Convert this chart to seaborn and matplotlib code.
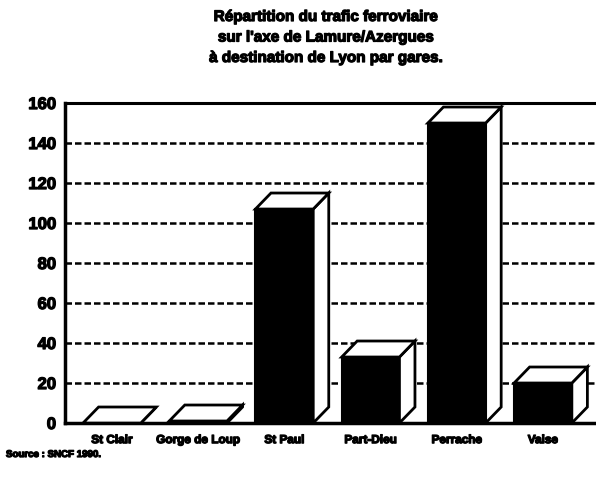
import matplotlib
matplotlib.use("Agg")
import matplotlib.pyplot as plt
from matplotlib.patches import Polygon
import matplotlib.patheffects as pe
import seaborn as sns
import pandas as pd

# Rail traffic towards Lyon, by station
stations = ["St Clair", "Gorge de Loup", "St Paul", "Part-Dieu", "Perrache", "Vaise"]
traffic = [0, 1, 107, 33, 150, 20]
y_ticks = [0, 20, 40, 60, 80, 100, 120, 140, 160]

title_lines = ["Répartition du trafic ferroviaire",
               "sur l'axe de Lamure/Azergues",
               "à destination de Lyon par gares."]
source_text = "Source : SNCF 1990."

df = pd.DataFrame({"gare": stations, "trafic": traffic})

sns.set_style("white")
plt.rcParams["font.family"] = ["Liberation Sans", "DejaVu Sans"]
plt.rcParams["text.color"] = "black"

# thicken glyphs for a heavy, photocopied look
heavy = [pe.withStroke(linewidth=0.9, foreground="black")]

fig = plt.figure(figsize=(5.96, 4.83), dpi=100)
ax = fig.add_axes([0.109, 0.1242, 0.891, 0.6625])

sns.barplot(data=df, x="gare", y="trafic", color="black", width=0.67,
            saturation=1, edgecolor="black", linewidth=1.5, ax=ax, zorder=3)

# pseudo-3D depth: top and right faces drawn from each bar
dx, dy = 0.18, 8.0
for patch in ax.patches[:]:
    L = patch.get_x()
    R = L + patch.get_width()
    h = patch.get_height()
    top = Polygon([(L, h), (R, h), (R + dx, h + dy), (L + dx, h + dy)],
                  closed=True, facecolor="white", edgecolor="black",
                  linewidth=2, zorder=4, joinstyle="miter")
    side = Polygon([(R, 0), (R + dx, dy), (R + dx, h + dy), (R, h)],
                   closed=True, facecolor="white", edgecolor="black",
                   linewidth=2, zorder=4, joinstyle="miter")
    ax.add_patch(side)
    ax.add_patch(top)

ax.set_xlim(-0.545, 5.615)
ax.set_ylim(0, 160)
ax.set_yticks(y_ticks)
ax.set_yticklabels([str(v) for v in y_ticks], fontsize=12, fontweight="bold",
                   color="black")
ax.set_xticks(range(len(stations)))
ax.set_xticklabels(stations, fontsize=8.5, fontweight="bold", color="black")
for lbl in ax.get_yticklabels() + ax.get_xticklabels():
    lbl.set_path_effects(heavy)
ax.set_xlabel("")
ax.set_ylabel("")

for v in y_ticks[1:-1]:
    ax.axhline(v, color="black", linewidth=1.8, linestyle=(0, (2.6, 1.2)), zorder=1)

ax.tick_params(axis="y", direction="inout", length=9, width=2, pad=2, colors="black")
ax.tick_params(axis="x", direction="out", length=5, width=1.5, pad=3, colors="black")

for side_name in ["left", "bottom", "top"]:
    ax.spines[side_name].set_visible(True)
    ax.spines[side_name].set_color("black")
ax.spines["left"].set_linewidth(2.5)
ax.spines["bottom"].set_linewidth(2.5)
ax.spines["top"].set_linewidth(2.2)
ax.spines["right"].set_visible(False)

for i, line in enumerate(title_lines):
    fig.text(0.547, 1 - (17 + 20.5 * i) / 483, line, ha="center", va="center",
             fontsize=11, fontweight="bold", color="black", path_effects=heavy)

fig.text(0.01, 1 - 454 / 483, source_text, ha="left", va="center",
         fontsize=7, fontweight="bold", color="black", path_effects=heavy)

fig.savefig("out.png", dpi=100)
